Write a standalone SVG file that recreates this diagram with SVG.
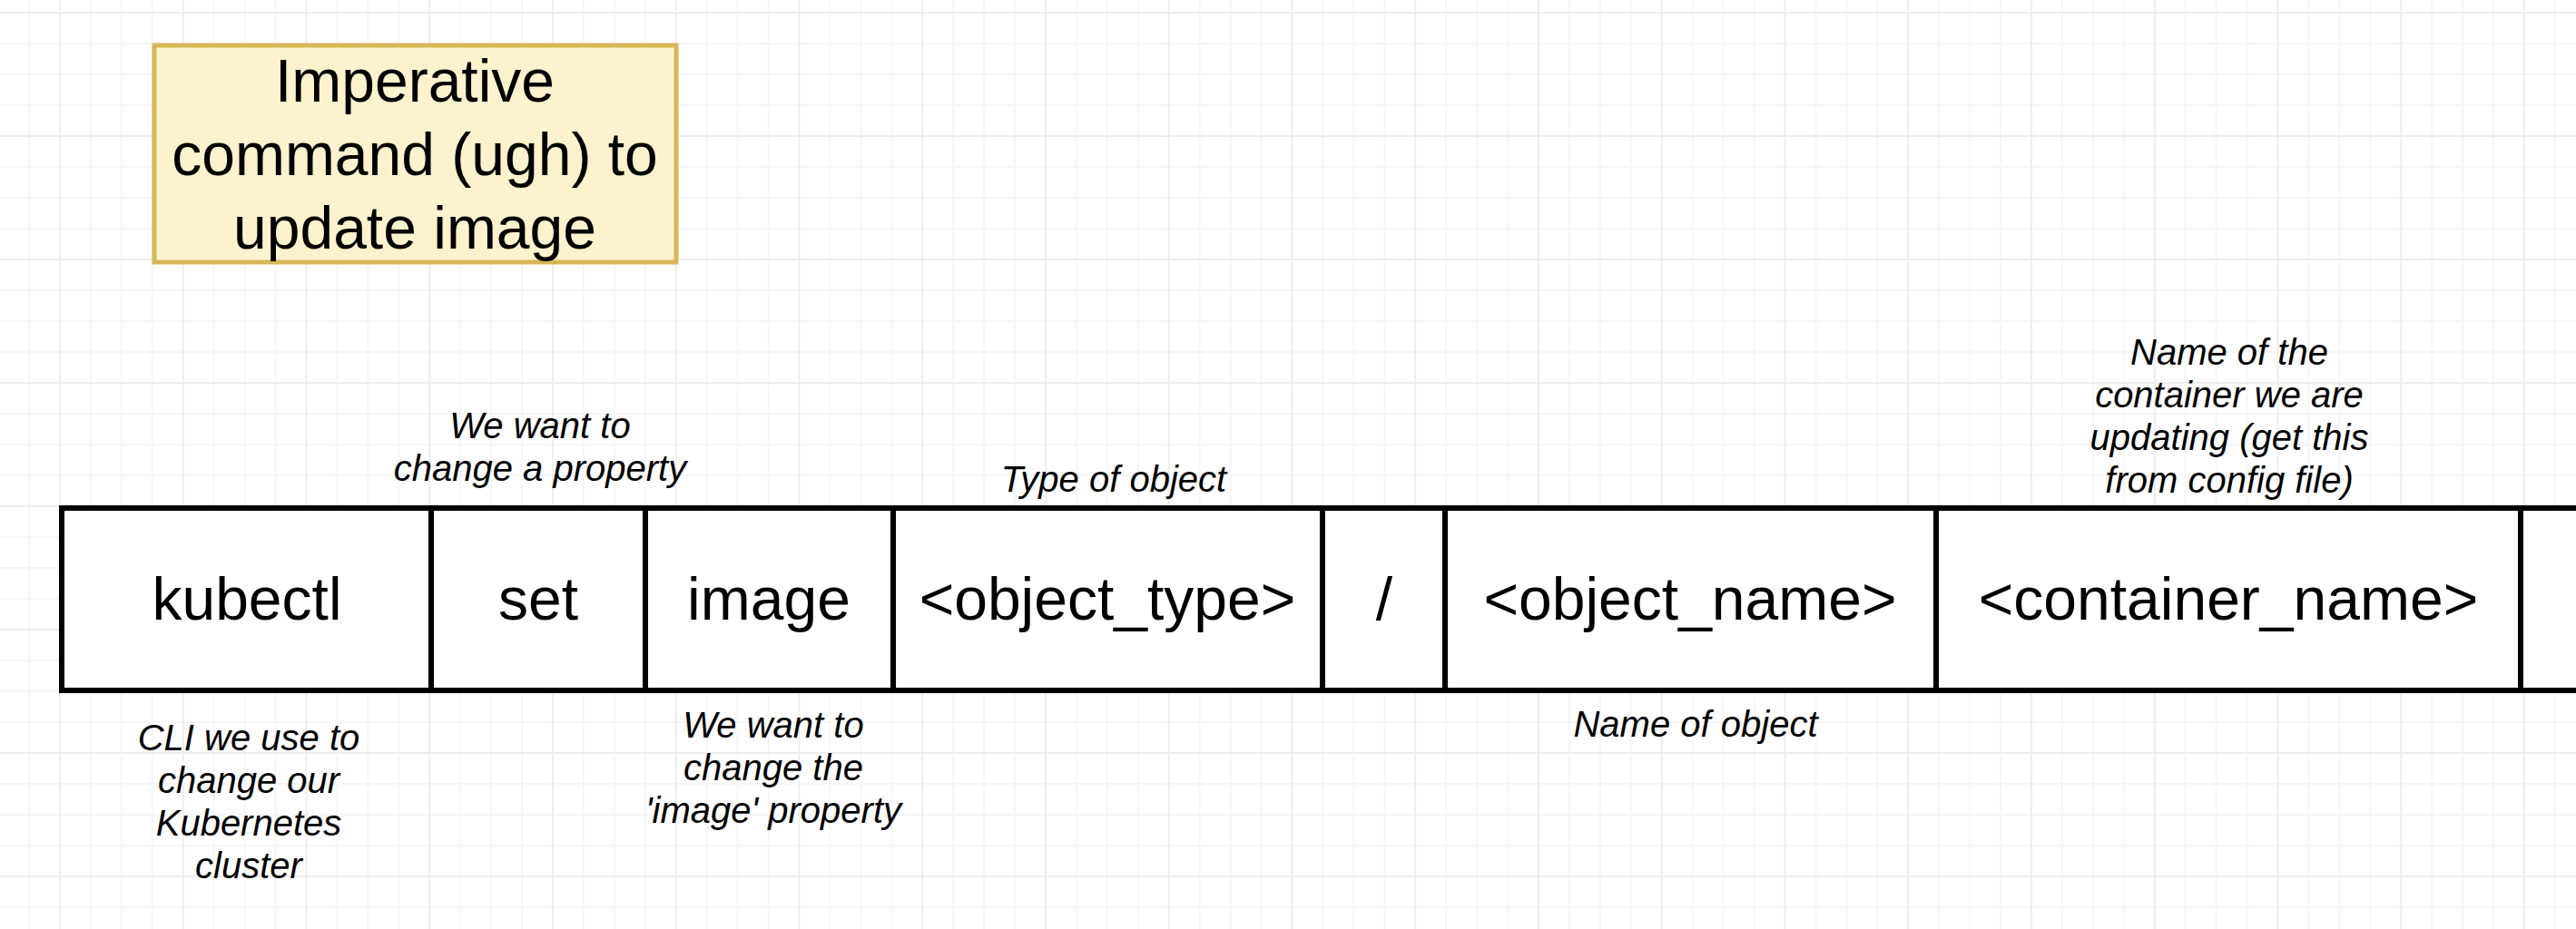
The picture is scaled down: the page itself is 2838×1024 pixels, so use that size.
<svg xmlns="http://www.w3.org/2000/svg" width="2838" height="1024" viewBox="0 0 2838 1024">
<defs>
<pattern id="grid" patternUnits="userSpaceOnUse" x="65" y="13" width="135.75" height="136">
<path d="M34.94 0V136M68.88 0V136M102.81 0V136M0 35H135.75M0 69H135.75M0 103H135.75" stroke="#f6f6f6" stroke-width="2" fill="none"/>
<path d="M1 0V136M0 1H135.75" stroke="#eeeeee" stroke-width="2" fill="none"/>
</pattern>
<style>
.cell{fill:#ffffff;stroke:#000000;stroke-width:6}
.title{fill:#fcf2cd;stroke:#d6b656;stroke-width:5}
.big{font-family:"Liberation Sans",Arial,Helvetica,sans-serif;font-size:66px;fill:#000000;text-anchor:middle}
.note{font-family:"Liberation Sans",Arial,Helvetica,sans-serif;font-size:40px;font-style:italic;fill:#000000;text-anchor:middle}
</style>
</defs>
<rect width="2838" height="1024" fill="#ffffff"/>
<rect width="2838" height="1024" fill="url(#grid)"/>

<g id="title">
<rect class="title" x="170" y="50" width="575" height="239"/>
<text class="big" x="457" y="112">Imperative</text>
<text class="big" x="457" y="193">command (ugh) to</text>
<text class="big" x="457" y="274">update image</text>
</g>

<g id="cell-kubectl">
<rect class="cell" x="68" y="560" width="407" height="201"/>
<text class="big" x="272" y="683">kubectl</text>
</g>
<g id="cell-set">
<rect class="cell" x="475" y="560" width="236" height="201"/>
<text class="big" x="593" y="683">set</text>
</g>
<g id="cell-image">
<rect class="cell" x="711" y="560" width="273" height="201"/>
<text class="big" x="847" y="683">image</text>
</g>
<g id="cell-object-type">
<rect class="cell" x="984" y="560" width="473" height="201"/>
<text class="big" x="1220" y="683">&lt;object_type&gt;</text>
</g>
<g id="cell-slash">
<rect class="cell" x="1457" y="560" width="135" height="201"/>
<text class="big" x="1525" y="683">/</text>
</g>
<g id="cell-object-name">
<rect class="cell" x="1592" y="560" width="541" height="201"/>
<text class="big" x="1862" y="683">&lt;object_name&gt;</text>
</g>
<g id="cell-container-name">
<rect class="cell" x="2133" y="560" width="644" height="201"/>
<text class="big" x="2455" y="683">&lt;container_name&gt;</text>
</g>
<g id="cell-next">
<rect class="cell" x="2777" y="560" width="200" height="201"/>
</g>

<g id="note-set">
<text class="note" x="595" y="483">We want to</text>
<text class="note" x="595" y="530">change a property</text>
</g>
<g id="note-type">
<text class="note" x="1227" y="542">Type of object</text>
</g>
<g id="note-container">
<text class="note" x="2456" y="402">Name of the</text>
<text class="note" x="2456" y="449">container we are</text>
<text class="note" x="2456" y="496">updating (get this</text>
<text class="note" x="2456" y="543">from config file)</text>
</g>
<g id="note-kubectl">
<text class="note" x="274" y="827">CLI we use to</text>
<text class="note" x="274" y="874">change our</text>
<text class="note" x="274" y="921">Kubernetes</text>
<text class="note" x="274" y="968">cluster</text>
</g>
<g id="note-image">
<text class="note" x="852" y="813">We want to</text>
<text class="note" x="852" y="860">change the</text>
<text class="note" x="852" y="907">'image' property</text>
</g>
<g id="note-name">
<text class="note" x="1868" y="812">Name of object</text>
</g>
<g id="connectors"/>
</svg>
